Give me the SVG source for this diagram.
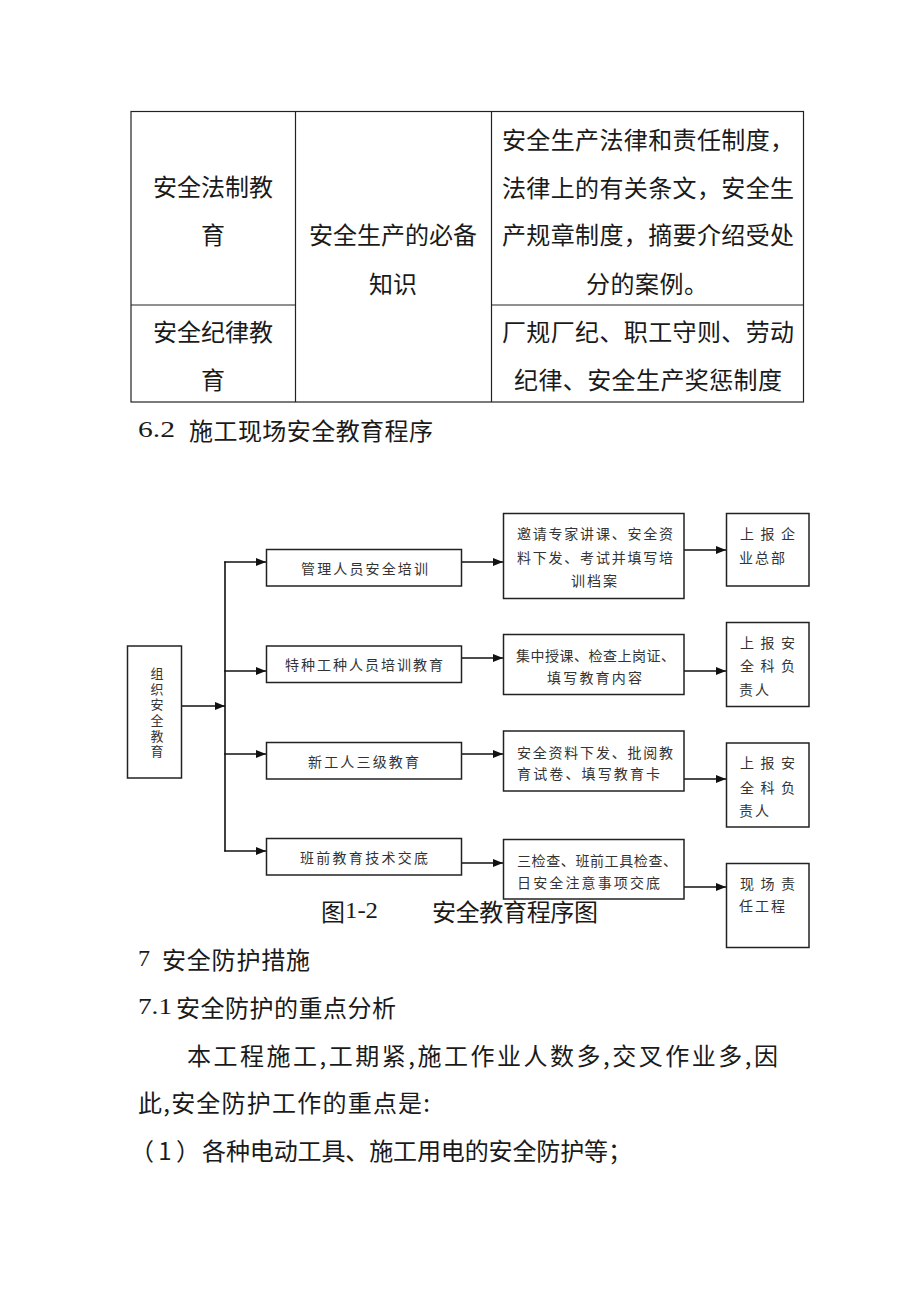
<svg xmlns="http://www.w3.org/2000/svg" width="920" height="1302" viewBox="0 0 920 1302">
<defs>
<style>
.t{font-family:"Noto Sans CJK SC","Noto Sans",sans-serif;fill:#1a1a1a;dominant-baseline:central}
.big{font-size:24px}
.sm{font-size:14px;fill:#333}
.vt{font-size:13px;fill:#333}
.lat{font-family:"Liberation Serif",serif;font-size:24px;fill:#1a1a1a;dominant-baseline:central}
.tb{fill:none;stroke:#222;stroke-width:1.2}
.bx{fill:#fff;stroke:#222;stroke-width:1.5}
.cn{fill:none;stroke:#111;stroke-width:1.6}
</style>
<marker id="ah" viewBox="0 0 10 8" refX="10" refY="4" markerWidth="10" markerHeight="8" markerUnits="userSpaceOnUse" orient="auto">
<path d="M0,0 L10,4 L0,8 Z" fill="#111"/>
</marker>
</defs>
<rect width="920" height="1302" fill="#fff"/>

<g id="table">
<rect class="tb" x="131" y="111.5" width="672.5" height="290.5"/>
<line class="tb" x1="295.5" y1="111.5" x2="295.5" y2="402"/>
<line class="tb" x1="491.5" y1="111.5" x2="491.5" y2="402"/>
<line class="tb" x1="131" y1="305" x2="295.5" y2="305"/>
<line class="tb" x1="491.5" y1="305" x2="803.5" y2="305"/>
<text class="t big" x="213" y="185" text-anchor="middle">安全法制教</text>
<text class="t big" x="213" y="233" text-anchor="middle">育</text>
<text class="t big" x="213" y="330" text-anchor="middle">安全纪律教</text>
<text class="t big" x="213" y="378" text-anchor="middle">育</text>
<text class="t big" x="393" y="233" text-anchor="middle">安全生产的必备</text>
<text class="t big" x="393" y="282" text-anchor="middle">知识</text>
<text class="t big" x="502" y="138" textLength="292" lengthAdjust="spacing">安全生产法律和责任制度，</text>
<text class="t big" x="502" y="186" textLength="292" lengthAdjust="spacing">法律上的有关条文，安全生</text>
<text class="t big" x="502" y="233" textLength="292" lengthAdjust="spacing">产规章制度，摘要介绍受处</text>
<text class="t big" x="586" y="282" textLength="122" lengthAdjust="spacing">分的案例。</text>
<text class="t big" x="502" y="330" textLength="292" lengthAdjust="spacing">厂规厂纪、职工守则、劳动</text>
<text class="t big" x="514" y="378" textLength="268" lengthAdjust="spacing">纪律、安全生产奖惩制度</text>
</g>

<g id="heading62">
<text class="lat" x="138" y="429" textLength="37" lengthAdjust="spacingAndGlyphs">6.2</text>
<text class="t big" x="189" y="429" textLength="244" lengthAdjust="spacing">施工现场安全教育程序</text>
</g>

<g id="caption">
<text class="t big" x="321" y="910">图</text>
<text class="lat" x="345" y="910" textLength="33" lengthAdjust="spacingAndGlyphs">1-2</text>
<text class="t big" x="432" y="910" textLength="166" lengthAdjust="spacing">安全教育程序图</text>
</g>

<g id="connectors">
<line class="cn" x1="181.5" y1="706" x2="225" y2="706" marker-end="url(#ah)"/>
<line class="cn" x1="225" y1="561.5" x2="225" y2="851.5"/>
<line class="cn" x1="224.2" y1="562" x2="266" y2="562" marker-end="url(#ah)"/>
<line class="cn" x1="224.2" y1="671" x2="266" y2="671" marker-end="url(#ah)"/>
<line class="cn" x1="224.2" y1="754" x2="266" y2="754" marker-end="url(#ah)"/>
<line class="cn" x1="224.2" y1="851" x2="266" y2="851" marker-end="url(#ah)"/>
<line class="cn" x1="462" y1="562" x2="503" y2="562" marker-end="url(#ah)"/>
<line class="cn" x1="462" y1="658" x2="503" y2="658" marker-end="url(#ah)"/>
<line class="cn" x1="462" y1="754" x2="503" y2="754" marker-end="url(#ah)"/>
<line class="cn" x1="462" y1="863" x2="503" y2="863" marker-end="url(#ah)"/>
<line class="cn" x1="684" y1="550" x2="726" y2="550" marker-end="url(#ah)"/>
<line class="cn" x1="684" y1="671" x2="726" y2="671" marker-end="url(#ah)"/>
<line class="cn" x1="684" y1="779" x2="726" y2="779" marker-end="url(#ah)"/>
<line class="cn" x1="684" y1="887" x2="726" y2="887" marker-end="url(#ah)"/>
</g>

<g id="n-org">
<rect class="bx" x="127.5" y="646" width="54" height="132"/>
<text class="t vt" x="157" y="666.5" writing-mode="vertical-rl" letter-spacing="2.7">组织安全教育</text>
</g>

<g id="n-mgmt">
<rect class="bx" x="266.5" y="549.5" width="195" height="36.5"/>
<text class="t sm" x="301" y="568" textLength="127" lengthAdjust="spacing">管理人员安全培训</text>
</g>
<g id="n-special">
<rect class="bx" x="266.5" y="646" width="195" height="36.5"/>
<text class="t sm" x="285" y="664" textLength="158" lengthAdjust="spacing">特种工种人员培训教育</text>
</g>
<g id="n-new">
<rect class="bx" x="266.5" y="742.5" width="195" height="36.5"/>
<text class="t sm" x="308" y="761" textLength="111" lengthAdjust="spacing">新工人三级教育</text>
</g>
<g id="n-shift">
<rect class="bx" x="266.5" y="838.5" width="195" height="36.5"/>
<text class="t sm" x="300" y="857" textLength="128" lengthAdjust="spacing">班前教育技术交底</text>
</g>

<g id="n-a">
<rect class="bx" x="503.5" y="513.5" width="180.5" height="85"/>
<text class="t sm" x="517" y="533" textLength="156" lengthAdjust="spacing">邀请专家讲课、安全资</text>
<text class="t sm" x="517" y="557" textLength="156" lengthAdjust="spacing">料下发、考试并填写培</text>
<text class="t sm" x="571" y="580" textLength="46" lengthAdjust="spacing">训档案</text>
</g>
<g id="n-b">
<rect class="bx" x="503.5" y="634.5" width="180.5" height="60"/>
<text class="t sm" x="516" y="655" textLength="159" lengthAdjust="spacing">集中授课、检查上岗证、</text>
<text class="t sm" x="547" y="677" textLength="95" lengthAdjust="spacing">填写教育内容</text>
</g>
<g id="n-c">
<rect class="bx" x="503.5" y="731" width="180.5" height="60"/>
<text class="t sm" x="517" y="752" textLength="156" lengthAdjust="spacing">安全资料下发、批阅教</text>
<text class="t sm" x="517" y="773" textLength="143" lengthAdjust="spacing">育试卷、填写教育卡</text>
</g>
<g id="n-d">
<rect class="bx" x="503.5" y="839.5" width="180.5" height="59.5"/>
<text class="t sm" x="517" y="860" textLength="160" lengthAdjust="spacing">三检查、班前工具检查、</text>
<text class="t sm" x="517" y="882" textLength="143" lengthAdjust="spacing">日安全注意事项交底</text>
</g>

<g id="n-r1">
<rect class="bx" x="726.5" y="513.5" width="82.5" height="72.5"/>
<text class="t sm" x="740" y="533" textLength="55" lengthAdjust="spacing">上报企</text>
<text class="t sm" x="739" y="557" textLength="46" lengthAdjust="spacing">业总部</text>
</g>
<g id="n-r2">
<rect class="bx" x="726.5" y="622.5" width="82.5" height="84"/>
<text class="t sm" x="740" y="642" textLength="55" lengthAdjust="spacing">上报安</text>
<text class="t sm" x="740" y="665" textLength="55" lengthAdjust="spacing">全科负</text>
<text class="t sm" x="739" y="689" textLength="30" lengthAdjust="spacing">责人</text>
</g>
<g id="n-r3">
<rect class="bx" x="726.5" y="743" width="82.5" height="84"/>
<text class="t sm" x="740" y="762" textLength="55" lengthAdjust="spacing">上报安</text>
<text class="t sm" x="740" y="787" textLength="55" lengthAdjust="spacing">全科负</text>
<text class="t sm" x="739" y="810" textLength="30" lengthAdjust="spacing">责人</text>
</g>
<g id="n-r4">
<rect class="bx" x="726.5" y="863.5" width="82.5" height="84"/>
<text class="t sm" x="740" y="883" textLength="55" lengthAdjust="spacing">现场责</text>
<text class="t sm" x="739" y="905" textLength="46" lengthAdjust="spacing">任工程</text>
</g>

<g id="body">
<text class="lat" x="138" y="958">7</text>
<text class="t big" x="162" y="958" textLength="148" lengthAdjust="spacing">安全防护措施</text>
<text class="lat" x="138" y="1006" textLength="34" lengthAdjust="spacingAndGlyphs">7.1</text>
<text class="t big" x="176" y="1006" textLength="220" lengthAdjust="spacing">安全防护的重点分析</text>
<text class="t big" x="187" y="1054" textLength="591" lengthAdjust="spacing">本工程施工,工期紧,施工作业人数多,交叉作业多,因</text>
<text class="t big" x="138" y="1101" textLength="292" lengthAdjust="spacing">此,安全防护工作的重点是:</text>
<text class="t big" x="130" y="1149" textLength="70" lengthAdjust="spacing">（1）</text>
<text class="t big" x="202" y="1149" textLength="430" lengthAdjust="spacing">各种电动工具、施工用电的安全防护等；</text>
</g>
</svg>
